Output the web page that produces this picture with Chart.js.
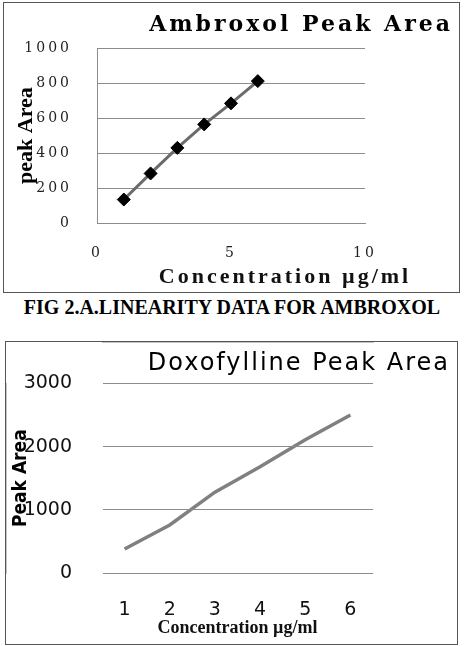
<!DOCTYPE html>
<html>
<head>
<meta charset="utf-8">
<script src="https://cdn.jsdelivr.net/npm/chart.js@4/dist/chart.umd.min.js"></script>
<style>
    body { margin: 0; width: 468px; height: 646px; background: #fff; position: relative; overflow: hidden; }
    .box { position: absolute; border: 1px solid #555; background: #fff; }
    #box1 { left: 3px; top: 2px; width: 455px; height: 289px; }
    #box2 { left: 5px; top: 341px; width: 451px; height: 302px; }
    #caption {
        position: absolute; left: 0; top: 296px; width: 464px; text-align: center;
        font: bold 20px "Liberation Serif", "Times New Roman", serif; line-height: 22px; color: #000;
    }
    canvas { display: block; }
</style>
</head>
<body>

<div class="box" id="box1"><canvas id="ambroxol" width="455" height="289"></canvas></div>
<div id="caption">FIG 2.A.LINEARITY DATA FOR AMBROXOL</div>
<div class="box" id="box2"><canvas id="doxofylline" width="451" height="302"></canvas></div>

<script>
// concentrations (µg/ml)
const conc = [1, 2, 3, 4, 5, 6];
const concLabels = ["1", "2", "3", "4", "5", "6"];

// peak areas
const ambroxolArea = [135, 284, 430, 564, 684, 811];
const doxofyllineArea = [380, 760, 1280, 1680, 2110, 2500];

const gridCol = "#8c8c8c";

// the first figure has its ticks and title spaced out
const spacing = {
    id: "spacing",
    beforeUpdate(chart) { chart.ctx.letterSpacing = "3px"; },
    beforeDraw(chart) { chart.ctx.letterSpacing = "3px"; }
};

// second figure: only the big title is spaced (scale layers are drawn after the datasets)
const titleSpacing = {
    id: "titleSpacing",
    beforeDraw(chart) { chart.ctx.letterSpacing = "2px"; },
    afterDatasetsDraw(chart) { chart.ctx.letterSpacing = "0px"; }
};

// axis titles of the first figure: tight text, x title right of the plot centre
const axisTitles = {
    id: "axisTitles",
    afterDraw(chart) {
        let c = chart.ctx;
        let a = chart.chartArea;
        c.save();
        c.fillStyle = "#111";
        c.textAlign = "center";
        c.textBaseline = "middle";
        c.font = "bold 22px 'Liberation Serif', serif";
        c.fillText("Concentration µg/ml", (a.left + a.right) / 2 + 54, a.bottom + 54);

        c.letterSpacing = "0px";
        c.fillStyle = "#000";
        c.translate(a.left - 71, (a.top + a.bottom) / 2);
        c.rotate(-Math.PI / 2);
        c.font = "bold 22px 'Liberation Serif', serif";
        c.fillText("peak Area", 0, 0);
        c.restore();
    }
};

let ctx1 = document.getElementById("ambroxol").getContext("2d");
let chart1 = new Chart(ctx1, {
    type: "line",
    data: {
        datasets: [{
            data: conc.map((c, i) => ({ x: c, y: ambroxolArea[i] })),
            borderColor: "#6b6b6b",
            borderWidth: 3,
            pointStyle: "rectRot",
            pointRadius: 6.5,
            pointBackgroundColor: "#000",
            pointBorderColor: "#000",
            pointBorderWidth: 1,
            tension: 0
        }]
    },
    options: {
        responsive: false,
        animation: false,
        layout: { padding: { top: 0, right: 6, bottom: 32, left: 0 } },
        plugins: {
            legend: { display: false },
            tooltip: { enabled: false },
            title: {
                display: true,
                text: "Ambroxol Peak Area",
                align: "end",
                color: "#000",
                font: { family: "'DejaVu Serif', serif", size: 22, weight: "bold" },
                padding: { top: 9, bottom: 9.6 }
            }
        },
        scales: {
            x: {
                type: "linear",
                min: 0,
                max: 10,
                ticks: { stepSize: 5, padding: 22, color: "#222", font: { family: "'DejaVu Serif', serif", size: 14 } },
                grid: { display: false, drawTicks: false },
                border: { display: true, color: gridCol },
                afterFit(s) { s.height = 36.8; }
            },
            y: {
                min: 0,
                max: 1000,
                ticks: {
                    stepSize: 200, padding: 25, color: "#222",
                    font: { family: "'DejaVu Serif', serif", size: 14 },
                    callback: (v) => String(v)
                },
                grid: { color: gridCol, drawTicks: false },
                border: { color: gridCol },
                afterFit(s) { s.width = 93; }
            },
            pad: {
                position: "right",
                type: "linear",
                ticks: { display: false },
                grid: { display: false, drawTicks: false },
                border: { display: false },
                afterFit(s) { s.width = 88; }
            }
        }
    },
    plugins: [spacing, axisTitles]
});

let ctx2 = document.getElementById("doxofylline").getContext("2d");
let chart2 = new Chart(ctx2, {
    type: "line",
    data: {
        labels: concLabels,
        datasets: [{
            data: doxofyllineArea,
            borderColor: "#808080",
            borderWidth: 3.5,
            pointRadius: 0,
            tension: 0
        }]
    },
    options: {
        responsive: false,
        animation: false,
        layout: { padding: { top: 0, right: 7, bottom: 6.5, left: 0 } },
        plugins: {
            legend: { display: false },
            tooltip: { enabled: false },
            title: {
                display: true,
                text: "Doxofylline Peak Area",
                align: "end",
                color: "#000",
                font: { family: "'DejaVu Sans', sans-serif", size: 24, weight: "normal" },
                padding: { top: 6.6, bottom: 5.6 }
            }
        },
        scales: {
            x: {
                offset: true,
                ticks: { z: 1, padding: 27.5, color: "#111", font: { family: "'DejaVu Sans', sans-serif", size: 19, lineHeight: 1 } },
                grid: { z: 1, display: false, drawTicks: false },
                border: { display: true, color: gridCol },
                title: {
                    display: true,
                    text: "Concentration µg/ml",
                    color: "#111",
                    font: { family: "'Liberation Serif', serif", size: 18, weight: "bold", lineHeight: 1 },
                    padding: { top: 0, bottom: 0 }
                },
                afterFit(s) { s.height = 64.5; }
            },
            y: {
                min: 0,
                max: 3000,
                ticks: {
                    z: 1, stepSize: 1000, padding: 30, color: "#111",
                    font: { family: "'DejaVu Sans', sans-serif", size: 19 },
                    callback: (v) => String(v)
                },
                grid: { z: 1, color: gridCol, drawTicks: false },
                border: { color: gridCol },
                title: {
                    display: true,
                    text: "Peak Area",
                    color: "#000",
                    font: { family: "'DejaVu Sans Condensed', 'DejaVu Sans', sans-serif", size: 19, weight: "bold" },
                    padding: { top: 4, bottom: 0 }
                },
                afterFit(s) { s.width = 96; }
            },
            pad: {
                position: "right",
                type: "linear",
                ticks: { display: false },
                grid: { display: false, drawTicks: false },
                border: { display: false },
                afterFit(s) { s.width = 77; }
            }
        }
    },
    plugins: [titleSpacing]
});
</script>
</body>
</html>
